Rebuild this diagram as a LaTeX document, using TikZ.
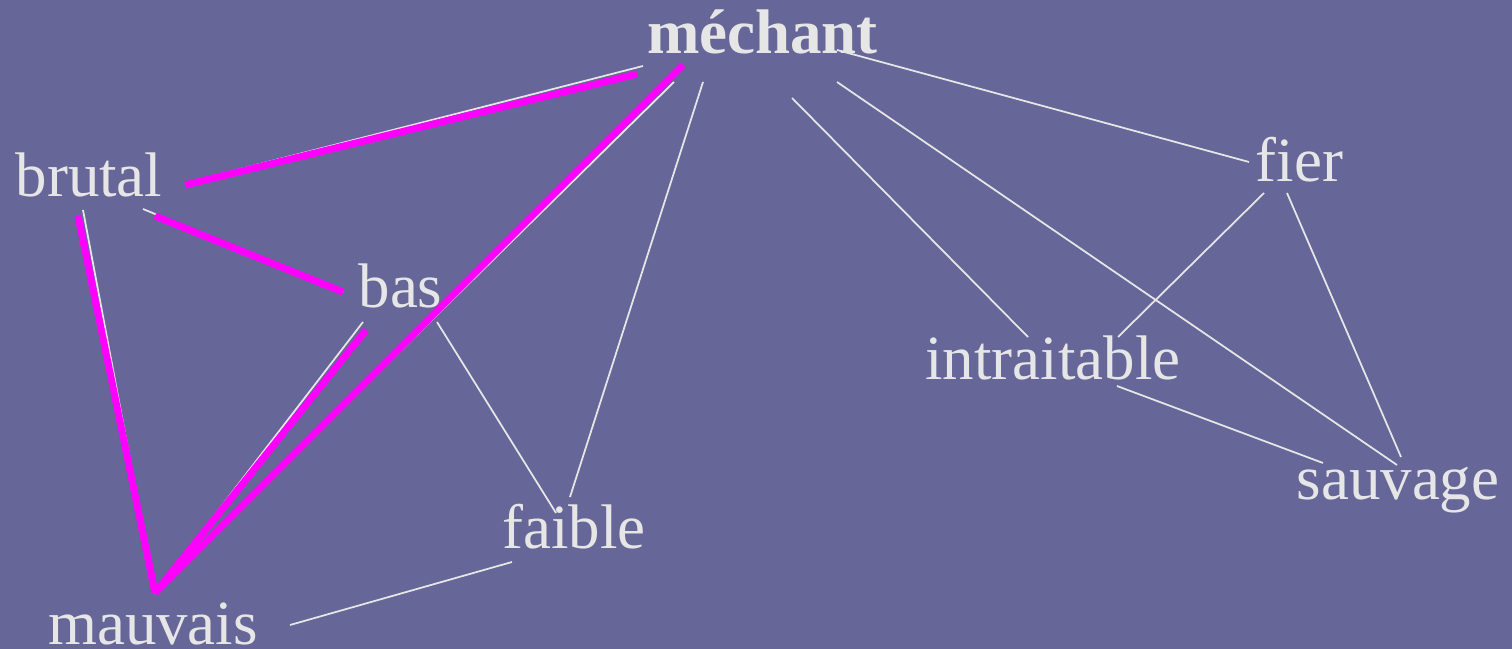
\documentclass[tikz,border=0pt]{standalone}
\usepackage{fontspec}
\setmainfont{Liberation Serif}
\usepackage{tikz}

\definecolor{slide}{HTML}{666699}
\definecolor{ink}{HTML}{E6E6E6}
\definecolor{hot}{HTML}{FF00FF}

\begin{document}
\begin{tikzpicture}
   [x=0.01cm,y=-0.01cm,
    word/.style={anchor=base,inner sep=0pt,text=ink,font=\fontsize{17.9pt}{20pt}\selectfont},
    link/.style={draw=ink,line width=0.5pt},
    path/.style={draw=hot,line width=2pt}]

\fill [slide] (0,0) rectangle (1512,649);
\useasboundingbox (0,0) rectangle (1512,649);

\node [word,font=\fontsize{17.9pt}{20pt}\selectfont\bfseries] (mechant) at (762.5,54) {méchant};
\node [word] (brutal) at (89,197) {brutal};
\node [word] (bas) at (400.5,308) {bas};
\node [word] (faible) at (574,548) {faible};
\node [word] (mauvais) at (153,644) {mauvais};
\node [word] (fier) at (1299.5,182) {fier};
\node [word] (intraitable) at (1053,380) {intraitable};
\node [word] (sauvage) at (1398,500) {sauvage};

\draw [link] ([shift={(116,-19)}]brutal.base) -- ([shift={(-119.5,12)}]mechant.base);
\draw [link] ([shift={(-88.5,28)}]mechant.base) -- ([shift={(4,-54)}]mauvais.base);
\draw [link] ([shift={(-59.5,28)}]mechant.base) -- ([shift={(-4,-51)}]faible.base);
\draw [link] ([shift={(29.5,44)}]mechant.base) -- ([shift={(-25,-43)}]intraitable.base);
\draw [link] ([shift={(74.5,28)}]mechant.base) -- ([shift={(-1,-35)}]sauvage.base);
\draw [link] ([shift={(74.5,-4)}]mechant.base) -- ([shift={(-50.5,-20)}]fier.base);
\draw [link] ([shift={(-35.5,11)}]fier.base) -- ([shift={(65,-43)}]intraitable.base);
\draw [link] ([shift={(-12.5,11)}]fier.base) -- ([shift={(3,-43)}]sauvage.base);
\draw [link] ([shift={(64,6)}]intraitable.base) -- ([shift={(-75,-37)}]sauvage.base);
\draw [link] ([shift={(54,12)}]brutal.base) -- ([shift={(-57.5,-16)}]bas.base);
\draw [link] ([shift={(-6,13)}]brutal.base) -- ([shift={(2,-51)}]mauvais.base);
\draw [link] ([shift={(-37.5,14)}]bas.base) -- ([shift={(4,-54)}]mauvais.base);
\draw [link] ([shift={(36.5,14)}]bas.base) -- ([shift={(-18,-35)}]faible.base);
\draw [link] ([shift={(-62,14)}]faible.base) -- ([shift={(137,-19)}]mauvais.base);

\draw [path] ([shift={(96,-12)}]brutal.base) -- ([shift={(-125.5,20)}]mechant.base);
\draw [path] ([shift={(-79.5,11)}]mechant.base) -- ([shift={(2,-51)}]mauvais.base);
\draw [path] ([shift={(66,19)}]brutal.base) -- ([shift={(-57.5,-16)}]bas.base);
\draw [path] ([shift={(-11,19)}]brutal.base) -- ([shift={(2,-51)}]mauvais.base);
\draw [path] ([shift={(-34.5,22)}]bas.base) -- ([shift={(2,-51)}]mauvais.base);
\end{tikzpicture}
\end{document}
